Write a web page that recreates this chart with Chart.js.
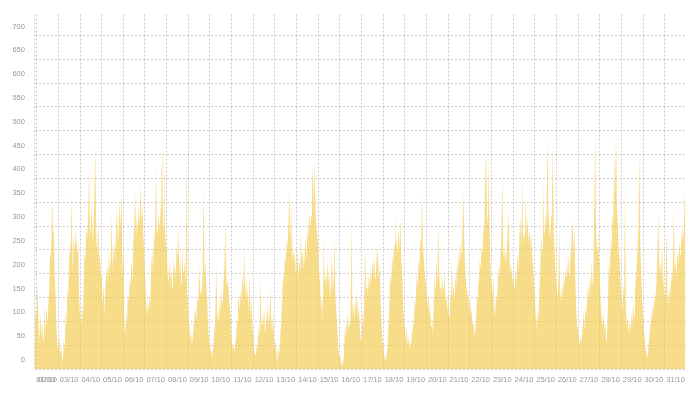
<!DOCTYPE html>
<html><head><meta charset="utf-8">
<script src="https://cdn.jsdelivr.net/npm/chart.js@4/dist/chart.umd.min.js"></script>
<style>html,body{margin:0;padding:0;background:#fff}#c{display:block}</style>
</head><body><canvas id="c" width="693" height="395"></canvas>
<script>
// x labels (one per day) and y tick values
const dayLabels = ['01/10','02/10','03/10','04/10','05/10','06/10','07/10','08/10','09/10','10/10','11/10','12/10','13/10','14/10','15/10','16/10','17/10','18/10','19/10','20/10','21/10','22/10','23/10','24/10','25/10','26/10','27/10','28/10','29/10','30/10','31/10'];
const yTicks = [0,50,100,150,200,250,300,350,400,450,500,550,600,650,700];

// hourly values: last 2 hours of 01/10, then 24 per day
const oct01 = [90, 130];
const oct02 = [110,180,90,60,120,70,100,60,150,80,100,130,90,140,170,250,230,360,300,280,200,150,80,50];
const oct03 = [40,70,30,50,25,15,60,40,120,90,170,150,230,260,370,300,200,280,250,290,260,240,270,150];
const oct04 = [110,90,140,100,160,250,230,300,270,320,430,280,300,350,260,300,380,470,270,250,320,220,250,200];
const oct05 = [200,130,180,110,170,200,220,180,250,200,230,320,210,240,270,230,290,340,260,300,360,290,380,200];
const oct06 = [250,100,70,120,90,160,140,190,170,230,180,260,300,380,270,320,290,340,300,390,310,350,290,250];
const oct07 = [200,150,110,140,120,160,130,220,250,200,290,260,430,300,280,330,290,320,350,480,300,460,300,260];
const oct08 = [250,200,180,230,190,210,170,250,200,220,190,260,230,300,200,240,180,270,210,200,230,180,460,160];
const oct09 = [120,90,60,80,50,70,90,110,130,100,150,140,220,160,180,150,210,390,190,230,170,140,90,60];
const oct10 = [50,30,40,25,60,80,120,220,100,130,90,150,120,170,130,180,210,310,200,170,190,150,130,110];
const oct11 = [60,40,55,35,50,70,100,130,160,120,170,140,200,160,260,150,190,140,170,120,200,110,150,90];
const oct12 = [70,40,30,50,35,60,90,70,200,80,110,90,130,80,120,100,140,90,110,170,100,80,120,60];
const oct13 = [40,60,25,15,50,30,70,100,150,200,180,240,220,280,250,300,380,260,350,240,280,220,250,200];
const oct14 = [210,260,190,230,200,290,220,250,210,240,280,230,300,270,330,290,320,380,420,340,440,330,300,280];
const oct15 = [250,200,180,120,160,100,280,180,200,170,230,180,210,150,170,250,160,190,280,150,120,90,50,30];
const oct16 = [30,15,5,20,10,60,90,70,120,90,110,80,130,320,110,140,100,150,120,170,110,130,90,60];
const oct17 = [60,120,90,150,260,170,190,150,200,170,210,180,230,200,240,190,260,210,260,190,220,150,100,60];
const oct18 = [50,30,20,40,25,60,90,150,200,180,240,210,260,330,250,280,240,300,250,320,230,200,140,100];
const oct19 = [80,60,90,50,70,40,60,45,80,110,90,150,130,200,170,230,200,280,250,370,260,230,200,180];
const oct20 = [170,130,160,110,140,90,110,70,130,200,160,230,180,310,200,170,220,150,190,160,210,140,160,120];
const oct21 = [150,110,170,130,230,150,180,140,200,170,230,200,260,220,270,230,300,370,250,200,180,150,170,120];
const oct22 = [150,110,130,90,100,70,80,110,150,190,170,230,210,260,240,300,280,400,460,330,300,440,280,200];
const oct23 = [180,150,200,130,110,160,140,180,220,190,240,280,410,250,230,260,220,250,290,330,230,200,220,180];
const oct24 = [200,170,220,180,200,240,210,280,320,250,400,280,300,260,360,280,320,260,300,250,290,240,220,180];
const oct25 = [150,110,80,120,100,160,200,280,250,410,300,280,330,300,490,340,300,270,320,350,470,280,250,200];
const oct26 = [180,150,170,300,160,140,180,150,200,170,220,190,210,240,200,260,220,290,310,240,300,180,120,90];
const oct27 = [80,60,50,70,55,90,120,80,130,110,150,180,140,200,160,230,170,200,350,500,280,250,300,240];
const oct28 = [200,140,110,90,120,80,100,60,70,130,230,190,270,240,330,300,450,360,500,340,300,250,230,180];
const oct29 = [150,120,180,140,390,130,90,110,70,100,80,120,90,140,110,160,190,220,260,300,460,250,200,140];
const oct30 = [110,80,60,40,30,25,50,70,90,120,100,140,120,170,140,200,250,330,200,230,190,260,200,170];
const oct31 = [140,180,300,160,130,170,150,200,180,220,340,200,230,190,250,220,270,240,290,260,300,270,370,330];

const days = [oct02,oct03,oct04,oct05,oct06,oct07,oct08,oct09,oct10,oct11,oct12,oct13,oct14,oct15,oct16,oct17,oct18,oct19,oct20,oct21,oct22,oct23,oct24,oct25,oct26,oct27,oct28,oct29,oct30,oct31];
const points = [];
oct01.forEach((v,i)=>points.push({x: i - oct01.length, y: v}));
days.forEach((arr,d)=>{ const step = 24/arr.length; arr.forEach((v,i)=>points.push({x: d*24 + i*step, y: v})); });
const xMax = points[points.length-1].x;

const gridCol = 'rgba(0,0,0,0.2)';
const font = {family: "'Helvetica Neue', 'Liberation Sans', Arial, sans-serif", size: 7.5};

new Chart(document.getElementById('c'), {
  type: 'line',
  data: { datasets: [{
    data: points,
    backgroundColor: 'rgba(242,201,76,0.65)',
    borderWidth: 0,
    pointRadius: 0,
    fill: 'origin',
    tension: 0
  }]},
  options: {
    responsive: false,
    animation: false,
    devicePixelRatio: 1,
    layout: { padding: { left: 0, top: 12, right: 7.5, bottom: 0 } },
    plugins: { legend: {display:false}, tooltip: {enabled:false} },
    scales: {
      x: {
        type: 'linear', min: -oct01.length, max: xMax,
        afterBuildTicks: s => { s.ticks = [{value:-oct01.length}].concat(dayLabels.slice(1).map((l,i)=>({value: i*24}))); },
        afterFit: s => { s.height = 26; },
        grid: { color: gridCol, lineWidth: 1, drawTicks: false },
        border: { display: false, dash: [2,2] },
        ticks: {
          autoSkip: false, maxRotation: 0, padding: 6, labelOffset: 10.8,
          color: '#999', font: font,
          callback: (v) => v < 0 ? dayLabels[0] : dayLabels[Math.round(v/24)+1]
        }
      },
      y: {
        min: 0, max: 744,
        afterBuildTicks: s => { s.ticks = yTicks.map(v=>({value:v})); },
        afterFit: s => { s.width = 34.9; },
        grid: { color: gridCol, lineWidth: 1, drawTicks: false },
        border: { display: false, dash: [2,2] },
        ticks: { padding: 10, labelOffset: -9, color: '#999', font: font }
      }
    }
  }
});
</script>
</body></html>
